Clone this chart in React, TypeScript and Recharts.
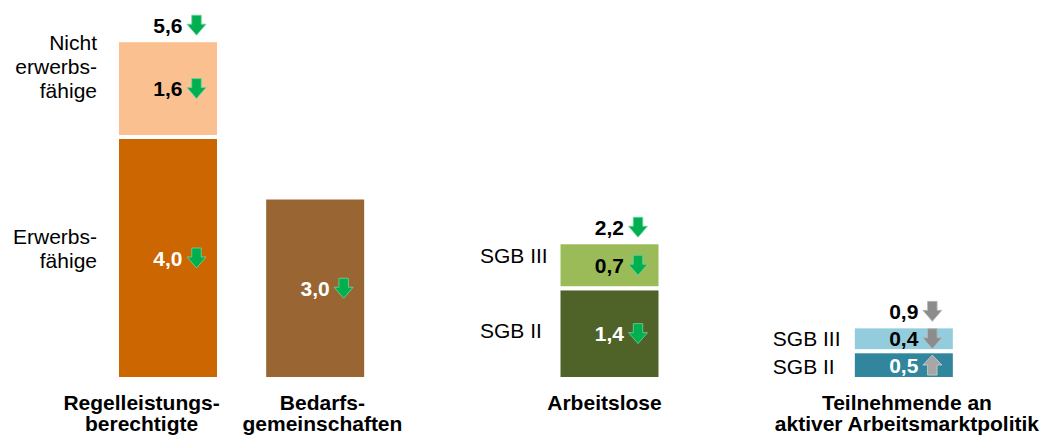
import React from 'react';
import { BarChart, Bar, XAxis, YAxis } from 'recharts';

// ---------- data ----------
const categories = [
  'Regelleistungsberechtigte',
  'Bedarfsgemeinschaften',
  '',
  'Arbeitslose',
  ' ',
  'Teilnehmende an aktiver Arbeitsmarktpolitik',
];
const categoryLines: (string[])[] = [
  ['Regelleistungs-', 'berechtigte'],
  ['Bedarfs-', 'gemeinschaften'],
  [],
  ['Arbeitslose'],
  [],
  ['Teilnehmende an', 'aktiver Arbeitsmarktpolitik'],
];
// bar heights as drawn (millions)
const lowerValues = [4.0, 3.0, null, 1.5, null, 0.46];
const upperValues = [1.6, null, null, 0.76, null, 0.41];
// printed labels
const lowerLabels = ['4,0', '3,0', null, '1,4', null, '0,5'];
const upperLabels = ['1,6', null, null, '0,7', null, '0,4'];
const totalLabels = ['5,6', null, null, '2,2', null, '0,9'];
const lowerTrends = ['down', 'down', null, 'down', null, 'up'];
const upperTrends = ['down', null, null, 'down', null, 'down'];
const totalTrends = ['down', null, null, 'down', null, 'down'];
const lowerNames: (string[] | null)[] = [['Erwerbs-', 'fähige'], null, null, ['SGB II'], null, ['SGB II']];
const upperNames: (string[] | null)[] = [['Nicht', 'erwerbs-', 'fähige'], null, null, ['SGB III'], null, ['SGB III']];

// ---------- styles ----------
const lowerColors = ['#CC6600', '#996633', null, '#4F6228', null, '#31859C'];
const upperColors = ['#FAC090', null, null, '#9BBB59', null, '#93CDDD'];
const lowerTextColors = ['#FFFFFF', '#FFFFFF', null, '#FFFFFF', null, '#FFFFFF'];
const upperTextColors = ['#000000', null, null, '#000000', null, '#000000'];
const arrowTones = ['green', 'green', null, 'green', null, 'gray'];
const nameStyles: Record<number, { anchor: 'start' | 'end'; dx: number; upperDy: number; lowerDy: number }> = {
  0: { anchor: 'end', dx: -20, upperDy: -22, lowerDy: -10 },
  3: { anchor: 'start', dx: -78.5, upperDy: -10, lowerDy: -3 },
  5: { anchor: 'start', dx: -80, upperDy: 0, lowerDy: 1.5 },
};
const tickDx = [-26, 7.7, 0, -4.6, 0, 3.5];

const FONT = '"Liberation Sans", Arial, sans-serif';
const FS = 21;
const LINE = 24;

const data = categories.map((c, i) => ({
  category: c,
  lower: lowerValues[i],
  upper: upperValues[i],
}));

function Arrow({ x, cy, dir, tone }: { x: number; cy: number; dir: string; tone: string }) {
  const W = 19;
  const H = 20;
  const top = cy - H / 2;
  const sL = x + W * 0.25;
  const sR = x + W * 0.75;
  let pts: number[][];
  if (dir === 'down') {
    const hy = top + H * 0.45;
    pts = [[sL, top], [sR, top], [sR, hy], [x + W, hy], [x + W / 2, top + H], [x, hy], [sL, hy]];
  } else {
    const hy = top + H * 0.5;
    pts = [[x + W / 2, top], [x + W, hy], [sR, hy], [sR, top + H], [sL, top + H], [sL, hy], [x, hy]];
  }
  let fill = '#00B050';
  let stroke = '#6FD59A';
  if (tone === 'gray') {
    fill = dir === 'up' ? '#A6A6A6' : '#8C8C8C';
    stroke = dir === 'up' ? '#D0D0D0' : '#B8B8B8';
  }
  return (
    <polygon
      points={pts.map((p) => p.join(',')).join(' ')}
      fill={fill}
      stroke={stroke}
      strokeWidth={0.8}
      strokeLinejoin="miter"
    />
  );
}

function ValueLabel({ cx, cy, text, color, dir, tone }: any) {
  return (
    <g>
      <text
        x={cx + 14.5}
        y={cy + FS * 0.358}
        textAnchor="end"
        fontFamily={FONT}
        fontSize={FS}
        fontWeight="bold"
        fill={color}
      >
        {text}
      </text>
      {dir ? <Arrow x={cx + 19} cy={cy} dir={dir} tone={tone} /> : null}
    </g>
  );
}

function NameLabel({ lines, x, cy, anchor }: any) {
  const first = cy - ((lines.length - 1) * LINE) / 2 + FS * 0.358;
  return (
    <text x={x} y={first} textAnchor={anchor} fontFamily={FONT} fontSize={FS} fill="#000000">
      {lines.map((l: string, k: number) => (
        <tspan key={k} x={x} y={first + k * LINE}>
          {l}
        </tspan>
      ))}
    </text>
  );
}

function makeShape(series: 'lower' | 'upper') {
  return (props: any) => {
    const { x, y, width, height, index } = props;
    const colors = series === 'lower' ? lowerColors : upperColors;
    const fill = colors[index];
    if (!fill || !(height > 0) || isNaN(y)) return <g />;
    const cx = x + width / 2;
    const cy = y + height / 2;
    const label = series === 'lower' ? lowerLabels[index] : upperLabels[index];
    const tColor = series === 'lower' ? lowerTextColors[index] : upperTextColors[index];
    const trend = series === 'lower' ? lowerTrends[index] : upperTrends[index];
    const names = series === 'lower' ? lowerNames[index] : upperNames[index];
    const ns = nameStyles[index];
    const tone = arrowTones[index] as string;
    return (
      <g>
        <rect x={x} y={y} width={width} height={height} fill={fill} stroke="#FFFFFF" strokeWidth={4} />
        {label ? <ValueLabel cx={cx} cy={cy} text={label} color={tColor} dir={trend} tone={tone} /> : null}
        {names && ns ? (
          <NameLabel
            lines={names}
            x={x + ns.dx}
            cy={cy + (series === 'lower' ? ns.lowerDy : ns.upperDy)}
            anchor={ns.anchor}
          />
        ) : null}
        {series === 'upper' && totalLabels[index] ? (
          <ValueLabel
            cx={cx}
            cy={y - 15}
            text={totalLabels[index]}
            color="#000000"
            dir={totalTrends[index]}
            tone={tone}
          />
        ) : null}
      </g>
    );
  };
}

function CategoryTick(props: any) {
  const { x, y, payload } = props;
  const idx = categories.indexOf(payload.value);
  if (idx < 0) return <g />;
  const lines = categoryLines[idx];
  const cx = x + tickDx[idx];
  return (
    <text x={cx} y={y + 30.5} textAnchor="middle" fontFamily={FONT} fontSize={FS} fontWeight="bold" fill="#000000">
      {lines.map((l, k) => (
        <tspan key={k} x={cx} y={y + 30.5 + k * 21}>
          {l}
        </tspan>
      ))}
    </text>
  );
}

export default function App() {
  return (
    <div style={{ position: 'absolute', left: 0, top: 0, width: 1042, height: 437, background: '#FFFFFF' }}>
      <BarChart
        width={1042}
        height={437}
        data={data}
        margin={{ top: 16, right: 65, bottom: 0, left: 94 }}
        barSize={102}
      >
        <XAxis
          dataKey="category"
          height={58}
          axisLine={false}
          tickLine={false}
          tickSize={0}
          tickMargin={0}
          interval={0}
          tick={<CategoryTick />}
        />
        <YAxis hide domain={[0, 6]} />
        <Bar dataKey="lower" stackId="a" isAnimationActive={false} shape={makeShape('lower')} />
        <Bar dataKey="upper" stackId="a" isAnimationActive={false} shape={makeShape('upper')} />
      </BarChart>
    </div>
  );
}
